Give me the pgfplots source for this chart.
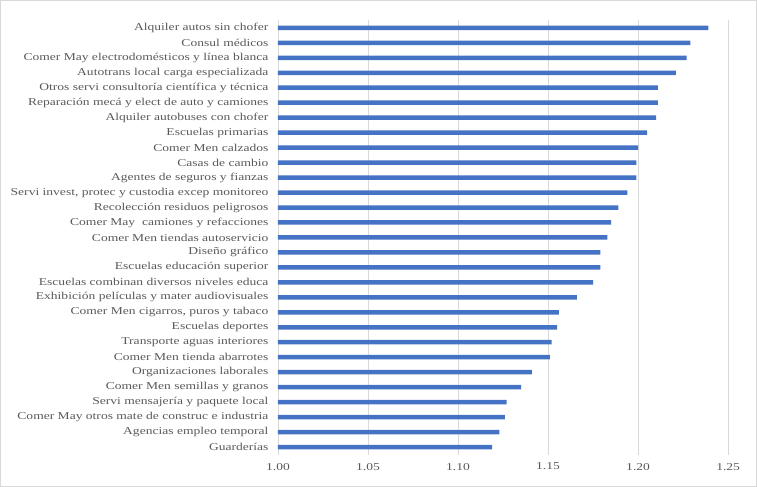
\documentclass[border=0pt]{standalone}
\usepackage{pgfplots}
\pgfplotsset{compat=1.18}
\usepackage{fontspec}
\setmainfont{Liberation Serif}[FakeStretch=1.29]
\definecolor{barblue}{HTML}{4472C4}
\definecolor{txtgray}{HTML}{595959}
\definecolor{gridgray}{HTML}{D9D9D9}
\begin{document}
\begin{tikzpicture}
\begin{axis}[
  scale only axis,
  width=450bp, height=434bp,
  xbar, bar width=4.5bp,
  xmin=1.00, xmax=1.25,
  ymin=-0.5, ymax=28.5,
  xtick={1.00,1.05,1.10,1.15,1.20,1.25},
  xticklabel style={/pgf/number format/fixed,/pgf/number format/fixed zerofill,/pgf/number format/precision=2,/pgf/number format/assume math mode=true, font=\fontsize{10.5bp}{12bp}\selectfont, text=txtgray},
  ytick={0,...,28},
  yticklabels={Guarderías,Agencias empleo temporal,Comer May otros mate de construc e industria,Servi mensajería y paquete local,Comer Men semillas y granos,Organizaciones laborales,Comer Men tienda abarrotes,Transporte aguas interiores,Escuelas deportes,{Comer Men cigarros, puros y tabaco},Exhibición películas y mater audiovisuales,Escuelas combinan diversos niveles educa,Escuelas educación superior,Diseño gráfico,Comer Men tiendas autoservicio,Comer May\ \ camiones y refacciones,Recolección residuos peligrosos,{Servi invest, protec y custodia excep monitoreo},Agentes de seguros y fianzas,Casas de cambio,Comer Men calzados,Escuelas primarias,Alquiler autobuses con chofer,Reparación mecá y elect de auto y camiones,Otros servi consultoría científica y técnica,Autotrans local carga especializada,Comer May electrodomésticos y línea blanca,Consul médicos,Alquiler autos sin chofer},
  yticklabel style={font=\fontsize{10.5bp}{12bp}\selectfont, text=txtgray, xshift=-6bp},
  major tick length=0pt,
  axis line style={draw=none},
  xmajorgrids, grid style={gridgray, line width=0.75bp},
  xtick pos=bottom, ytick pos=left,
  xticklabel shift=5bp,
  clip=false,
]
\addplot[fill=barblue, draw=none] coordinates {
(1.119,0) (1.123,1) (1.126,2) (1.127,3) (1.135,4) (1.141,5) (1.151,6) (1.152,7) (1.155,8) (1.156,9)
(1.166,10) (1.175,11) (1.179,12) (1.179,13) (1.183,14) (1.185,15) (1.189,16) (1.194,17) (1.199,18) (1.199,19)
(1.200,20) (1.205,21) (1.210,22) (1.211,23) (1.211,24) (1.221,25) (1.227,26) (1.229,27) (1.239,28)
};
\end{axis}
\draw[gridgray, line width=0.75bp] ([shift={(-277.5bp,-32bp)}]current axis.south west) rectangle ([shift={(28.5bp,20bp)}]current axis.north east);
\end{tikzpicture}
\end{document}
